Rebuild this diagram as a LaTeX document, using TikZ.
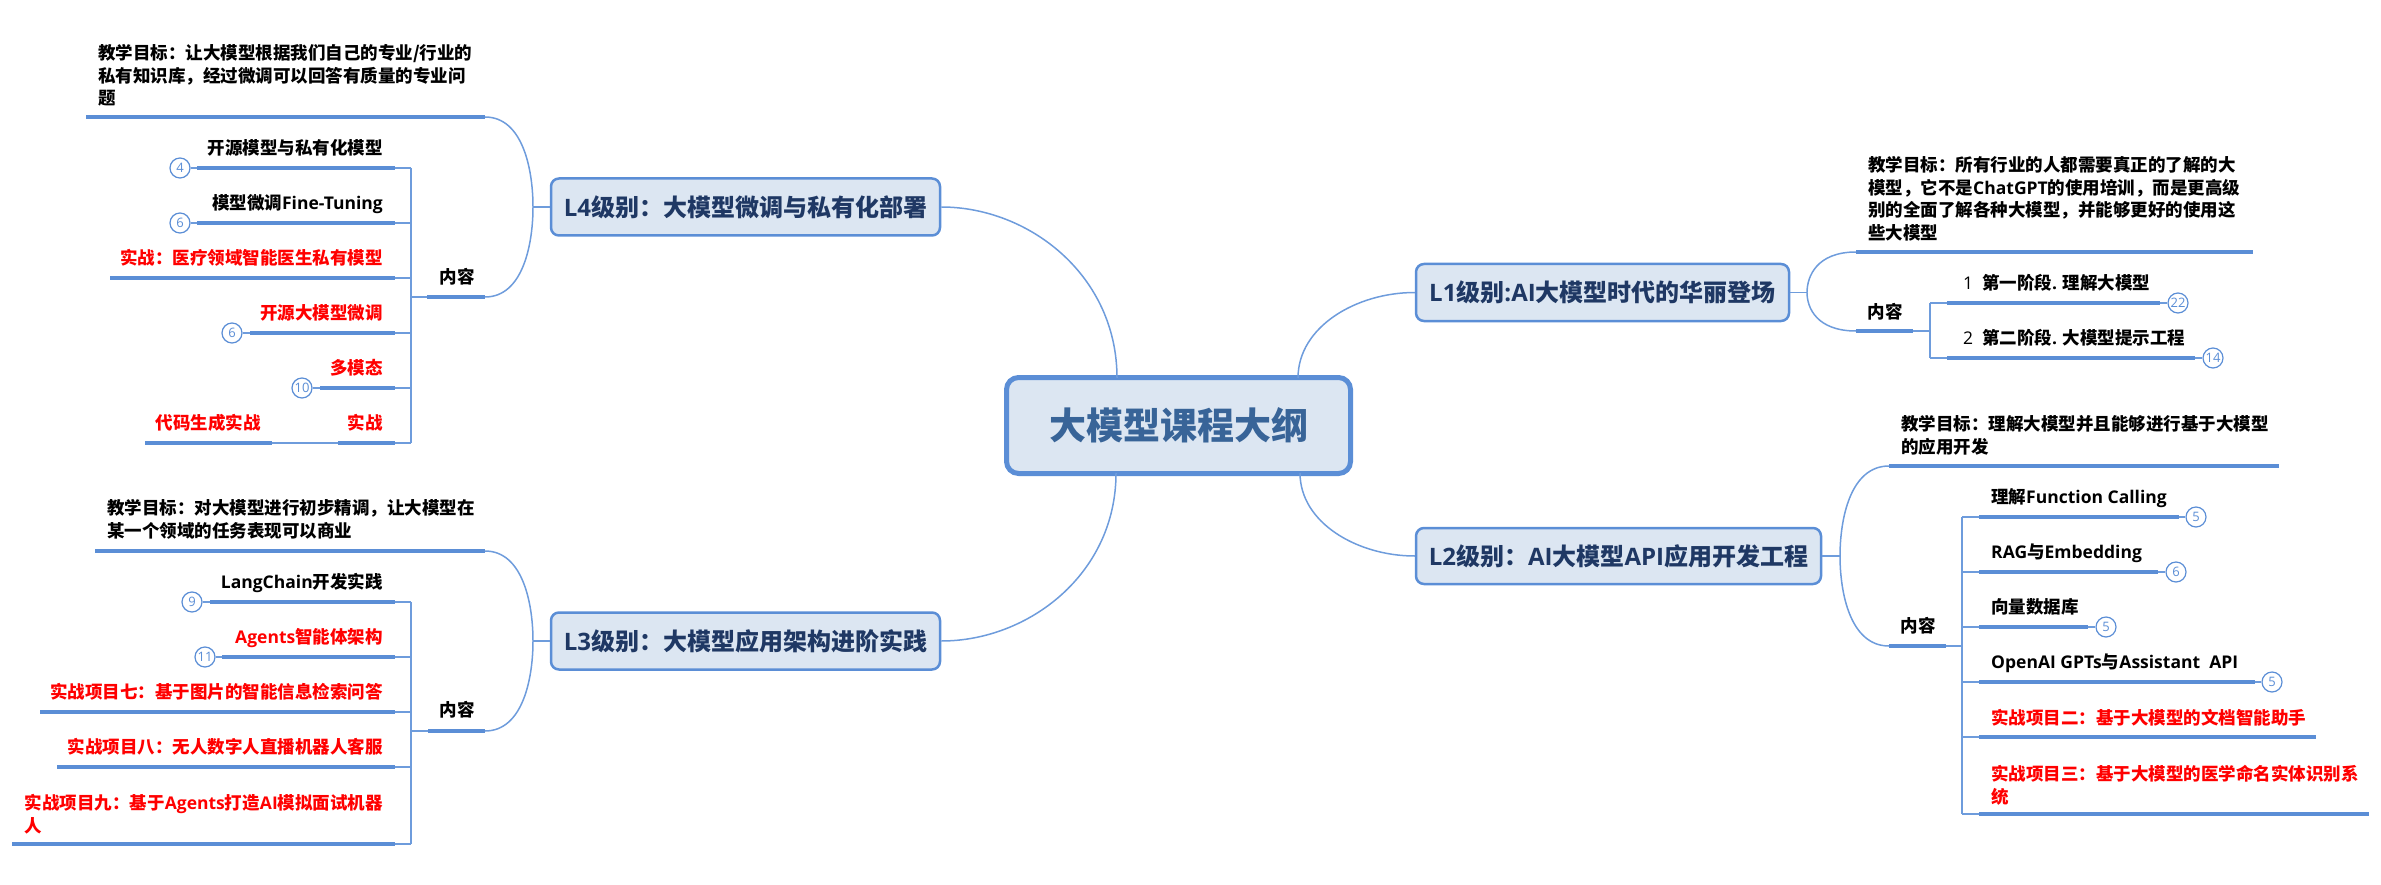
\documentclass[tikz,border=0pt]{standalone}
\usepackage{fontspec}
\setmainfont{Noto Sans CJK SC}
\newfontfamily\latfont{Open Sans}
\usetikzlibrary{calc}
\definecolor{lineblue}{HTML}{5B8ED6}
\definecolor{connblue}{HTML}{6E9CDC}
\definecolor{boxfill}{HTML}{DCE6F2}
\definecolor{boxtext}{HTML}{1F3864}
\definecolor{maintext}{HTML}{386498}
\definecolor{redtext}{HTML}{FF0000}
\newcommand\enf[1]{{\latfont #1}}
\newcommand\mmcurve[2]{\draw[conn] (#1) .. controls ($(#1)!0.4!(#1|-#2)$) and ($(#2)!0.8!(#1|-#2)$) .. (#2);}
\begin{document}
\begin{tikzpicture}[x=1pt,y=-1pt,
  txt/.style={font=\bfseries\fontsize{17.5}{22.7}\selectfont, inner sep=0pt, align=left, text=black},
  rtxt/.style={txt, text=redtext},
  uline/.style={draw=lineblue, line width=3.5pt},
  conn/.style={draw=connblue, line width=1.5pt},
  badge/.style={circle, draw=lineblue, line width=1.2pt, minimum size=20pt, inner sep=0pt, text=lineblue, font=\latfont\fontsize{13}{13}\selectfont, fill=white},
  lbox/.style={rounded corners=8pt, draw=lineblue, line width=2.5pt, fill=boxfill, text=boxtext, font=\bfseries\fontsize{24}{28}\selectfont, inner sep=0pt, minimum height=57pt},
  mainbox/.style={rounded corners=12pt, draw=lineblue, line width=5pt, fill=boxfill, text=maintext, font=\bfseries\fontsize{37}{40}\selectfont, inner sep=0pt, minimum width=344pt, minimum height=96pt}
]
\useasboundingbox (0,0) rectangle (2381,885);

% ---------- main boxes ----------
\node[mainbox] (root) at (1178.5,425.5) {大模型课程大纲};
\node[lbox, minimum width=389pt] (L4) at (745.5,207) {\enf{L4}级别：大模型微调与私有化部署};
\node[lbox, minimum width=389pt] (L3) at (745.5,641) {\enf{L3}级别：大模型应用架构进阶实践};
\node[lbox, minimum width=373pt] (L1) at (1602.5,292.5) {\enf{L1}级别\enf{:AI}大模型时代的华丽登场};
\node[lbox, minimum width=405pt, minimum height=56pt] (L2) at (1618.5,556) {\enf{L2}级别：\enf{AI}大模型\enf{API}应用开发工程};

\coordinate (rtl) at (1117,378);
\coordinate (rtr) at (1298,378);
\coordinate (rbl) at (1116,473);
\coordinate (rbr) at (1300,473);
\draw[conn] (rtl) .. controls ($(rtl)!0.6!(rtl|-L4.east)$) and ($(L4.east)!0.5!(rtl|-L4.east)$) .. (L4.east);
\draw[conn] (rbl) .. controls ($(rbl)!0.6!(rbl|-L3.east)$) and ($(L3.east)!0.5!(rbl|-L3.east)$) .. (L3.east);
\draw[conn] (rtr) .. controls ($(rtr)!0.6!(rtr|-L1.west)$) and ($(L1.west)!0.5!(rtr|-L1.west)$) .. (L1.west);
\draw[conn] (rbr) .. controls ($(rbr)!0.6!(rbr|-L2.west)$) and ($(L2.west)!0.5!(rbr|-L2.west)$) .. (L2.west);

% ---------- L4 ----------
\node[txt, anchor=north west] (o4) at (98,44) {教学目标：让大模型根据我们自己的专业/行业的\\私有知识库，经过微调可以回答有质量的专业问\\题};
\coordinate (o4a) at (86,117); \coordinate (o4b) at (485,117);
\draw[uline] (o4a) -- (o4b);
\node[txt, anchor=base] (n4) at (457,283.6) {内容};
\coordinate (n4a) at (427,297); \coordinate (n4b) at (485,297);
\draw[uline] (n4a) -- (n4b);
\coordinate (j4) at (533,207);
\draw[conn] (L4.west) -- (j4);
\mmcurve{j4}{o4b}
\mmcurve{j4}{n4b}
\coordinate (b4t) at (411,168); \coordinate (b4b) at (411,443);
\draw[conn] (b4t) -- (b4b);
\draw[conn] (n4a) -- (n4a -| b4t);

\node[txt, anchor=base east] (t41) at (383,154.6) {开源模型与私有化模型};
\coordinate (c41a) at (197,168); \coordinate (c41b) at (395,168);
\node[txt, anchor=base east] (t42) at (383,209.6) {模型微调\enf{Fine-Tuning}};
\coordinate (c42a) at (197,223); \coordinate (c42b) at (395,223);
\node[rtxt, anchor=base east] (t43) at (383,264.6) {实战：医疗领域智能医生私有模型};
\coordinate (c43a) at (110,278); \coordinate (c43b) at (395,278);
\node[rtxt, anchor=base east] (t44) at (383,319.6) {开源大模型微调};
\coordinate (c44a) at (250,333); \coordinate (c44b) at (395,333);
\node[rtxt, anchor=base east] (t45) at (383,374.6) {多模态};
\coordinate (c45a) at (320,388); \coordinate (c45b) at (395,388);
\node[rtxt, anchor=base east] (t46) at (383,429.6) {实战};
\coordinate (c46a) at (338,443); \coordinate (c46b) at (395,443);
\node[rtxt, anchor=base] (t47) at (208,429.6) {代码生成实战};
\coordinate (c47a) at (145,443); \coordinate (c47b) at (272,443);
\foreach \c in {c41,c42,c43,c44,c45,c46}{
  \draw[uline] (\c a) -- (\c b);
  \draw[conn] (\c b) -- (\c b -| b4t);
}
\draw[uline] (c47a) -- (c47b);
\draw[conn] (c47b) -- (c46a);
\node[badge] (g41) at (180,168) {4};
\node[badge] (g42) at (180,223) {6};
\node[badge] (g44) at (232,333) {6};
\node[badge] (g45) at (302,388) {10};
\draw[conn] (g41) -- (c41a);
\draw[conn] (g42) -- (c42a);
\draw[conn] (g44) -- (c44a);
\draw[conn] (g45) -- (c45a);

% ---------- L3 ----------
\node[txt, anchor=north west] (o3) at (107,499) {教学目标：对大模型进行初步精调，让大模型在\\某一个领域的任务表现可以商业};
\coordinate (o3a) at (95,551); \coordinate (o3b) at (485,551);
\draw[uline] (o3a) -- (o3b);
\node[txt, anchor=base] (n3) at (457,716.6) {内容};
\coordinate (n3a) at (428,731); \coordinate (n3b) at (485,731);
\draw[uline] (n3a) -- (n3b);
\coordinate (j3) at (533,641);
\draw[conn] (L3.west) -- (j3);
\mmcurve{j3}{o3b}
\mmcurve{j3}{n3b}
\coordinate (b3t) at (411,602); \coordinate (b3b) at (411,844);
\draw[conn] (b3t) -- (b3b);
\draw[conn] (n3a) -- (n3a -| b3t);

\node[txt, anchor=base east] (t31) at (383,588.6) {\enf{LangChain}开发实践};
\coordinate (c31a) at (210,602); \coordinate (c31b) at (395,602);
\node[rtxt, anchor=base east] (t32) at (383,643.6) {\enf{Agents}智能体架构};
\coordinate (c32a) at (222,657); \coordinate (c32b) at (395,657);
\node[rtxt, anchor=base east] (t33) at (383,698.6) {实战项目七：基于图片的智能信息检索问答};
\coordinate (c33a) at (40,712); \coordinate (c33b) at (395,712);
\node[rtxt, anchor=base east] (t34) at (383,753.6) {实战项目八：无人数字人直播机器人客服};
\coordinate (c34a) at (57,767); \coordinate (c34b) at (395,767);
\node[rtxt, anchor=north east] (t35) at (383,794) {实战项目九：基于\enf{Agents}打造\enf{AI}模拟面试机器\\人};
\coordinate (c35a) at (12,844); \coordinate (c35b) at (395,844);
\foreach \c in {c31,c32,c33,c34,c35}{
  \draw[uline] (\c a) -- (\c b);
  \draw[conn] (\c b) -- (\c b -| b3t);
}
\node[badge] (g31) at (192,602) {9};
\node[badge] (g32) at (205,657) {11};
\draw[conn] (g31) -- (c31a);
\draw[conn] (g32) -- (c32a);

% ---------- L1 ----------
\node[txt, anchor=north west] (o1) at (1868,156) {教学目标：所有行业的人都需要真正的了解的大\\模型，它不是\enf{ChatGPT}的使用培训，而是更高级\\别的全面了解各种大模型，并能够更好的使用这\\些大模型};
\coordinate (o1a) at (1856,252); \coordinate (o1b) at (2253,252);
\draw[uline] (o1a) -- (o1b);
\node[txt, anchor=base] (n1) at (1885,318.6) {内容};
\coordinate (n1a) at (1856,331); \coordinate (n1b) at (1913,331);
\draw[uline] (n1a) -- (n1b);
\coordinate (j1) at (1807,292.5);
\draw[conn] (L1.east) -- (j1);
\mmcurve{j1}{o1a}
\mmcurve{j1}{n1a}
\coordinate (b1t) at (1930,303); \coordinate (b1b) at (1930,358);
\draw[conn] (b1t) -- (b1b);
\draw[conn] (n1b) -- (n1b -| b1t);

\node[txt, anchor=base west] (t11) at (1963,289.6) {{\mdseries\latfont 1}\hspace{9pt}第一阶段\enf{.} 理解大模型};
\coordinate (c11a) at (1947,303); \coordinate (c11b) at (2160,303);
\node[txt, anchor=base west] (t12) at (1963,344.6) {{\mdseries\latfont 2}\hspace{9pt}第二阶段\enf{.} 大模型提示工程};
\coordinate (c12a) at (1947,358); \coordinate (c12b) at (2195,358);
\foreach \c in {c11,c12}{
  \draw[uline] (\c a) -- (\c b);
  \draw[conn] (\c a) -- (\c a -| b1t);
}
\node[badge] (g11) at (2178,303) {22};
\node[badge] (g12) at (2213,358) {14};
\draw[conn] (c11b) -- (g11);
\draw[conn] (c12b) -- (g12);

% ---------- L2 ----------
\node[txt, anchor=north west] (o2) at (1901,415) {教学目标：理解大模型并且能够进行基于大模型\\的应用开发};
\coordinate (o2a) at (1889,466); \coordinate (o2b) at (2279,466);
\draw[uline] (o2a) -- (o2b);
\node[txt, anchor=base] (n2) at (1918,632.6) {内容};
\coordinate (n2a) at (1889,646); \coordinate (n2b) at (1946,646);
\draw[uline] (n2a) -- (n2b);
\coordinate (j2) at (1840,556);
\draw[conn] (L2.east) -- (j2);
\mmcurve{j2}{o2a}
\mmcurve{j2}{n2a}
\coordinate (b2t) at (1962,517); \coordinate (b2b) at (1962,814);
\draw[conn] (b2t) -- (b2b);
\draw[conn] (n2b) -- (n2b -| b2t);

\node[txt, anchor=base west] (t21) at (1991,503.6) {理解\enf{Function Calling}};
\coordinate (c21a) at (1979,517); \coordinate (c21b) at (2179,517);
\node[txt, anchor=base west] (t22) at (1991,558.6) {\enf{RAG}与\enf{Embedding}};
\coordinate (c22a) at (1979,572); \coordinate (c22b) at (2158,572);
\node[txt, anchor=base west] (t23) at (1991,613.6) {向量数据库};
\coordinate (c23a) at (1979,627); \coordinate (c23b) at (2088,627);
\node[txt, anchor=base west] (t24) at (1991,668.6) {\enf{OpenAI GPTs}与\enf{Assistant~~API}};
\coordinate (c24a) at (1979,682); \coordinate (c24b) at (2255,682);
\node[rtxt, anchor=base west] (t25) at (1991,724.6) {实战项目二：基于大模型的文档智能助手};
\coordinate (c25a) at (1979,737); \coordinate (c25b) at (2316,737);
\node[rtxt, anchor=north west] (t26) at (1991,765) {实战项目三：基于大模型的医学命名实体识别系\\统};
\coordinate (c26a) at (1979,814); \coordinate (c26b) at (2369,814);
\foreach \c in {c21,c22,c23,c24,c25,c26}{
  \draw[uline] (\c a) -- (\c b);
  \draw[conn] (\c a) -- (\c a -| b2t);
}
\node[badge] (g21) at (2196,517) {5};
\node[badge] (g22) at (2176,572) {6};
\node[badge] (g23) at (2106,627) {5};
\node[badge] (g24) at (2272,682) {5};
\draw[conn] (c21b) -- (g21);
\draw[conn] (c22b) -- (g22);
\draw[conn] (c23b) -- (g23);
\draw[conn] (c24b) -- (g24);
\end{tikzpicture}
\end{document}
